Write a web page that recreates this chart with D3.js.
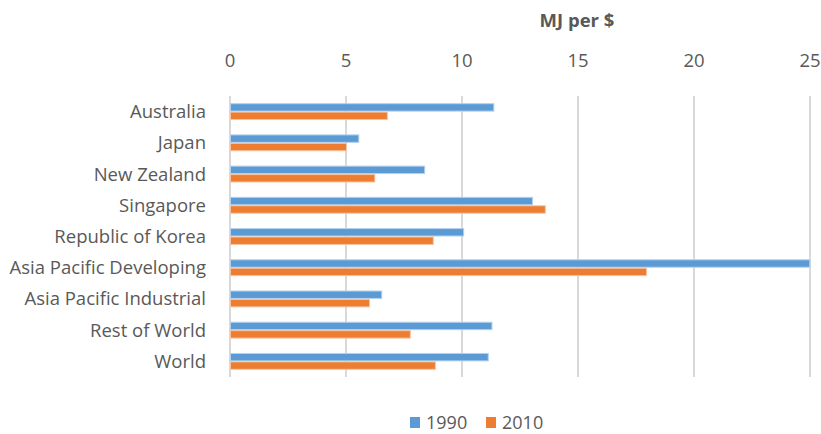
<!DOCTYPE html>
<html>
<head>
<meta charset="utf-8">
<script src="https://cdn.jsdelivr.net/npm/d3@7"></script>
<style>
  body { margin: 0; background: #fff; }
  text { font-family: "Open Sans", Lato, sans-serif; fill: #595959; }
</style>
</head>
<body>
<div id="chart"></div>
<script>
const categories = ["Australia", "Japan", "New Zealand", "Singapore", "Republic of Korea",
  "Asia Pacific Developing", "Asia Pacific Industrial", "Rest of World", "World"];
const series = ["1990", "2010"];
const values1990 = [11.35, 5.53, 8.37, 13.02, 10.05, 24.97, 6.52, 11.27, 11.11];
const values2010 = [6.76, 5.0, 6.22, 13.57, 8.74, 17.93, 5.99, 7.75, 8.83];
const ticks = [0, 5, 10, 15, 20, 25];
const colors = { "1990": "#5B9BD5", "2010": "#ED7D31" };
const strokes = { "1990": "#b4d0ec", "2010": "#f6c3a1" };

const width = 821, height = 434;
const margin = { top: 96, right: 11, bottom: 57, left: 230 };

const svg = d3.select("#chart").append("svg")
  .attr("width", width)
  .attr("height", height);

const x = d3.scaleLinear()
  .domain([0, 25])
  .range([margin.left, width - margin.right]);

const y = d3.scaleBand()
  .domain(categories)
  .range([margin.top, height - margin.bottom])
  .paddingInner(0.46)
  .paddingOuter(0.23);

const ySub = d3.scaleBand()
  .domain(series)
  .range([0, y.bandwidth()]);

// gridlines
svg.append("g")
  .selectAll("line")
  .data(ticks)
  .join("line")
  .attr("x1", d => x(d))
  .attr("x2", d => x(d))
  .attr("y1", margin.top)
  .attr("y2", height - margin.bottom)
  .attr("stroke", "#d9d9d9")
  .attr("stroke-width", 2);

// tick labels on top
svg.append("g")
  .selectAll("text")
  .data(ticks)
  .join("text")
  .attr("x", d => x(d))
  .attr("y", 66.5)
  .attr("text-anchor", "middle")
  .style("font-size", "18.5px")
  .text(d => d);

svg.append("text")
  .attr("x", 577)
  .attr("y", 26.5)
  .attr("text-anchor", "middle")
  .style("font-size", "18.5px")
  .style("font-weight", "bold")
  .text("MJ per $");

// category labels
svg.append("g")
  .selectAll("text")
  .data(categories)
  .join("text")
  .attr("x", 206)
  .attr("y", d => y(d) + y.bandwidth() / 2)
  .attr("dy", "0.35em")
  .attr("text-anchor", "end")
  .style("font-size", "18.5px")
  .text(d => d);

const rows = categories.map((c, i) => ({ cat: c, vals: { "1990": values1990[i], "2010": values2010[i] } }));

const groups = svg.append("g")
  .selectAll("g")
  .data(rows)
  .join("g")
  .attr("transform", d => `translate(0,${y(d.cat)})`);

groups.selectAll("rect")
  .data(d => series.map(s => ({ s, v: d.vals[s] })))
  .join("rect")
  .attr("x", x(0) + 0.5)
  .attr("y", d => ySub(d.s) + 0.5)
  .attr("width", d => x(d.v) - x(0))
  .attr("height", ySub.bandwidth() - 1)
  .attr("fill", d => colors[d.s])
  .attr("stroke", d => strokes[d.s])
  .attr("stroke-width", 1);

// legend
const legend = svg.append("g");
const legendX = { "1990": 410, "2010": 486 };
series.forEach(s => {
  legend.append("rect")
    .attr("x", legendX[s])
    .attr("y", 417)
    .attr("width", 10)
    .attr("height", 11)
    .attr("fill", colors[s]);
  legend.append("text")
    .attr("x", legendX[s] + 16)
    .attr("y", 429)
    .style("font-size", "18px")
    .text(s);
});
</script>
</body>
</html>
